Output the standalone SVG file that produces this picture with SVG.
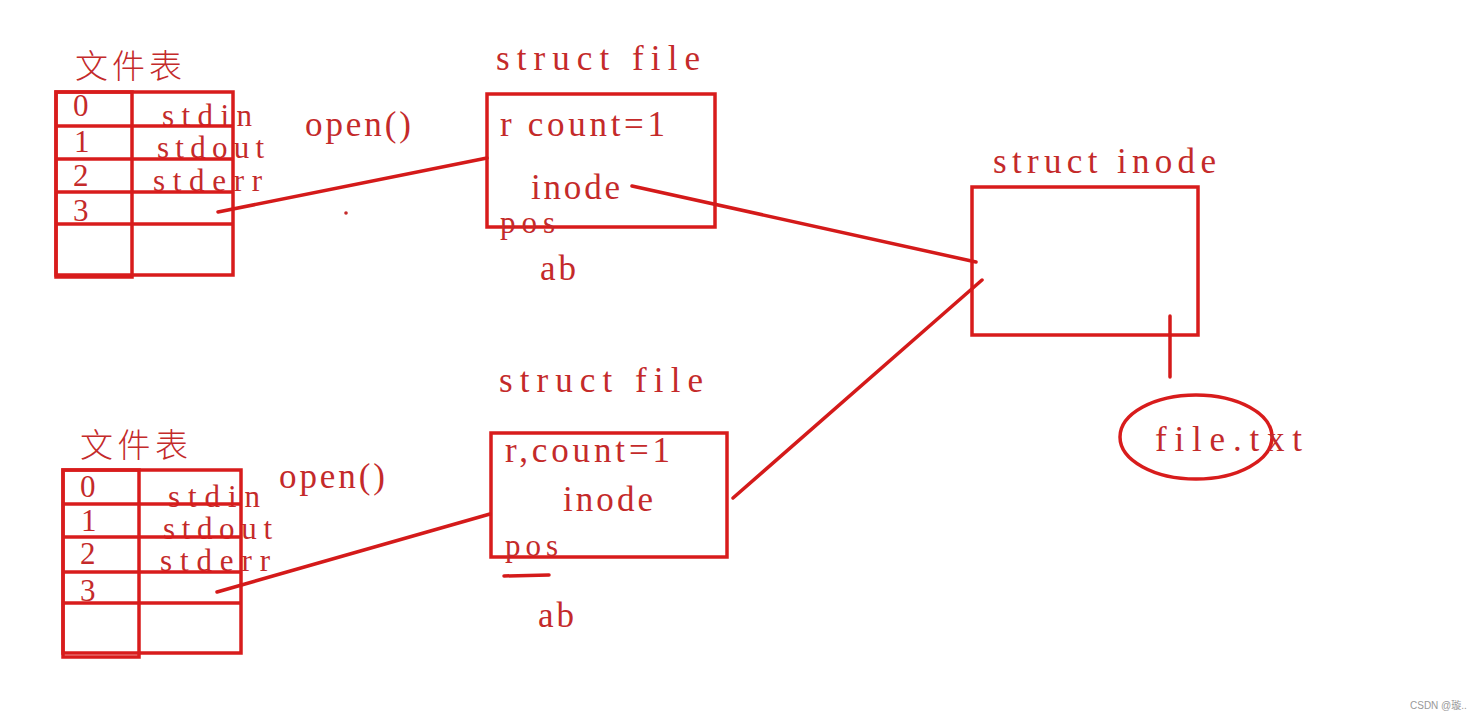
<svg xmlns="http://www.w3.org/2000/svg" width="1481" height="720" viewBox="0 0 1481 720">
<style>
.t{font-family:"Liberation Serif","Noto Sans CJK SC",serif;fill:#c42a2a;font-size:35px}
.s{font-family:"Liberation Serif","Noto Sans CJK SC",serif;fill:#c42a2a;font-size:31px}
.cj{font-family:"Noto Sans CJK SC","Liberation Serif",serif;fill:#c42a2a;font-size:33px;font-weight:300}
.b{fill:none;stroke:#d81c1c;stroke-width:3.5}
.l{fill:none;stroke:#d41a1a;stroke-width:3.5;stroke-linecap:round}
.wm{font-family:"Liberation Sans","Noto Sans CJK SC",sans-serif;fill:#999;font-size:10px}
</style>
<rect width="1481" height="720" fill="#fff"/>

<g id="table1">
<text class="cj" x="75" y="78" textLength="107" lengthAdjust="spacing">文件表</text>
<text class="s" x="73" y="116">0</text>
<text class="s" x="74" y="152">1</text>
<text class="s" x="73" y="186">2</text>
<text class="s" x="73" y="221">3</text>
<text class="s" x="162" y="126" textLength="90" lengthAdjust="spacing">stdin</text>
<text class="s" x="157" y="158" textLength="107" lengthAdjust="spacing">stdout</text>
<text class="s" x="153" y="191" textLength="109" lengthAdjust="spacing">stderr</text>
<rect class="b" x="56" y="92" width="177" height="183"/>
<rect class="b" x="56" y="92" width="76" height="185"/>
<line class="b" x1="56" y1="126" x2="233" y2="126"/>
<line class="b" x1="56" y1="159" x2="233" y2="159"/>
<line class="b" x1="56" y1="192" x2="233" y2="192"/>
<line class="b" x1="56" y1="224" x2="233" y2="224"/>
</g>

<g id="open1"><text class="t" x="305" y="136" textLength="106" lengthAdjust="spacing">open()</text></g>
<circle cx="346" cy="213" r="1.8" fill="#c42a2a"/>

<g id="file1">
<text class="t" x="496" y="70" textLength="204" lengthAdjust="spacing">struct file</text>
<rect class="b" x="487" y="94" width="228" height="133"/>
<text class="t" x="500" y="136" textLength="165" lengthAdjust="spacing">r count=1</text>
<text class="t" x="531" y="199" textLength="89" lengthAdjust="spacing">inode</text>
<text class="s" x="500" y="233" textLength="55" lengthAdjust="spacing">pos</text>
<text class="t" x="540" y="280" textLength="36" lengthAdjust="spacing">ab</text>
</g>

<g id="inode">
<text class="t" x="993" y="173" textLength="223" lengthAdjust="spacing">struct inode</text>
<rect class="b" x="972" y="187" width="226" height="148"/>
</g>

<g id="filetxt">
<ellipse class="b" cx="1196" cy="437" rx="76" ry="42"/>
<text class="t" x="1155" y="451" textLength="147" lengthAdjust="spacing">file.txt</text>
</g>

<g id="table2">
<text class="cj" x="80" y="457" textLength="108" lengthAdjust="spacing">文件表</text>
<text class="s" x="80" y="497">0</text>
<text class="s" x="81" y="531">1</text>
<text class="s" x="80" y="564">2</text>
<text class="s" x="80" y="601">3</text>
<text class="s" x="168" y="507" textLength="92" lengthAdjust="spacing">stdin</text>
<text class="s" x="163" y="539" textLength="109" lengthAdjust="spacing">stdout</text>
<text class="s" x="160" y="571" textLength="110" lengthAdjust="spacing">stderr</text>
<rect class="b" x="63" y="470" width="178" height="183"/>
<rect class="b" x="63" y="470" width="76" height="187"/>
<line class="b" x1="63" y1="504" x2="241" y2="504"/>
<line class="b" x1="63" y1="537" x2="241" y2="537"/>
<line class="b" x1="63" y1="572" x2="241" y2="572"/>
<line class="b" x1="63" y1="603" x2="241" y2="603"/>
</g>

<g id="open2"><text class="t" x="279" y="488" textLength="106" lengthAdjust="spacing">open()</text></g>

<g id="file2">
<text class="t" x="499" y="392" textLength="204" lengthAdjust="spacing">struct file</text>
<rect class="b" x="491" y="433" width="236" height="124"/>
<text class="t" x="505" y="462" textLength="165" lengthAdjust="spacing">r,count=1</text>
<text class="t" x="563" y="511" textLength="90" lengthAdjust="spacing">inode</text>
<text class="s" x="505" y="556" textLength="53" lengthAdjust="spacing">pos</text>
<line class="l" x1="504" y1="576" x2="549" y2="575"/>
<text class="t" x="538" y="627" textLength="36" lengthAdjust="spacing">ab</text>
</g>

<g id="connectors">
<line class="l" x1="218" y1="212" x2="487" y2="158"/>
<line class="l" x1="632" y1="186" x2="976" y2="262"/>
<line class="l" x1="733" y1="498" x2="982" y2="280"/>
<line class="l" x1="1170" y1="316" x2="1170" y2="377"/>
<line class="l" x1="217" y1="592" x2="490" y2="514"/>
</g>

<text class="wm" x="1410" y="709">CSDN @璇..</text>
</svg>
